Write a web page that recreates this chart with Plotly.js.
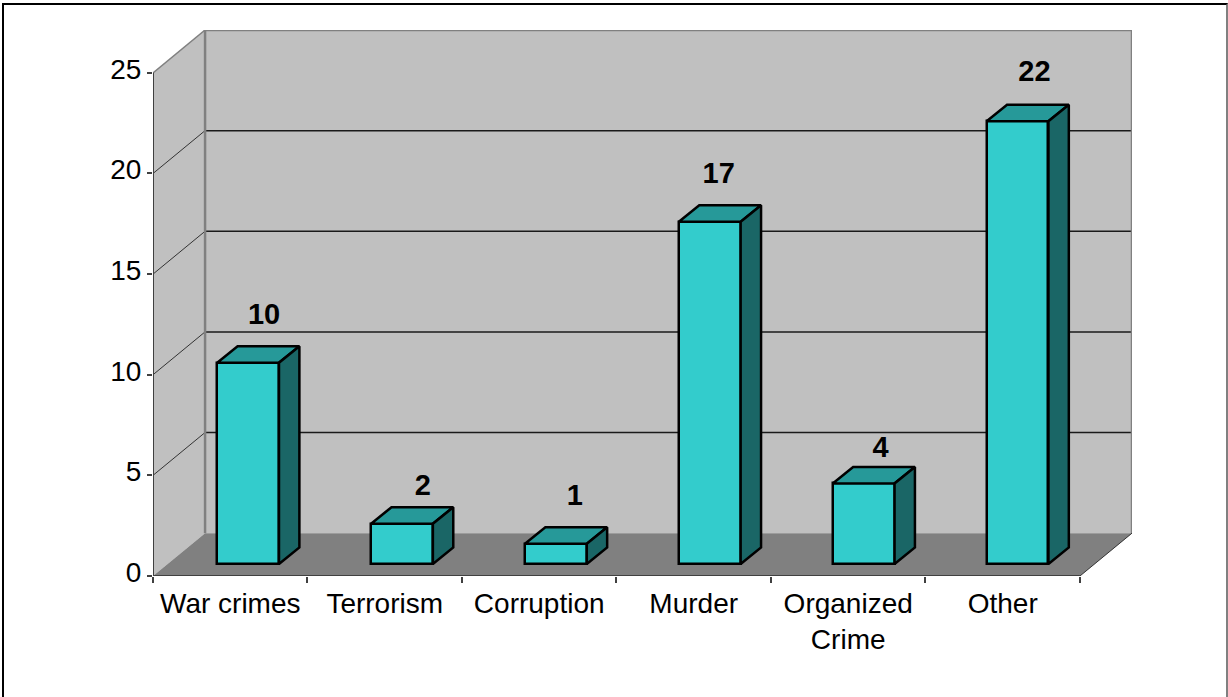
<!DOCTYPE html>
<html>
<head>
<meta charset="utf-8">
<script src="https://cdn.plot.ly/plotly-3.0.1.min.js"></script>
<style>
html,body{margin:0;padding:0;background:#fff;overflow:hidden}
#chart{position:absolute;left:0;top:0;width:1228px;height:697px}
#frame{position:absolute;left:2px;top:3px;width:1222px;height:720px;border-top:2.5px solid #000;border-left:2px solid #000;border-right:2px solid #808080;pointer-events:none}
</style>
</head>
<body>
<div id="chart"></div>
<div id="frame"></div>
<script>
const categories = ["War crimes", "Terrorism", "Corruption", "Murder", "Organized<br>Crime", "Other"];
const values = [10, 2, 1, 17, 4, 22];
const yTicks = [0, 5, 10, 15, 20, 25];

// 3D projection in axis units
const depthX = 0.337, depthY = 2.13;      // wall depth
const barDepthX = 0.132, barDepthY = 0.82; // bar depth
const barShift = 0.1175, barPitch = 0.9961, barBase = 0.6, barWidth = 0.4;
const nCat = categories.length, yMax = yTicks[yTicks.length - 1];

// hand placement of the value labels, in px (the original places them unevenly)
const labelNudgeX = [-2, 3, 1, -9, -1, -1];
const labelNudgeY = [4, -6, 4, 4, -8, 5.5];
const pxX = 1 / 154.4, pxY = 1 / 20.13;

const centres = categories.map((_, i) => i + 0.5);
const barX = centres.map(c => c * barPitch + barShift);

function poly(points) {
  return 'M' + points.map(p => p[0] + ',' + p[1]).join('L') + 'Z';
}
function line(x0, y0, x1, y1, color, width) {
  return {type: 'line', layer: 'below', xref: 'x', yref: 'y', x0, y0, x1, y1, line: {color, width}};
}

const shapes = [];
// walls and floor
shapes.push({type: 'path', layer: 'below', xref: 'x', yref: 'y', line: {width: 0}, fillcolor: '#C0C0C0',
  path: poly([[depthX, depthY], [nCat + depthX, depthY], [nCat + depthX, yMax + depthY], [depthX, yMax + depthY]])});
shapes.push({type: 'path', layer: 'below', xref: 'x', yref: 'y', line: {width: 0}, fillcolor: '#C0C0C0',
  path: poly([[0, 0], [depthX, depthY], [depthX, yMax + depthY], [0, yMax]])});
shapes.push({type: 'path', layer: 'below', xref: 'x', yref: 'y', line: {width: 0}, fillcolor: '#808080',
  path: poly([[0, 0], [nCat, 0], [nCat + depthX, depthY], [depthX, depthY]])});
// gridlines
yTicks.slice(1, -1).forEach(v => {
  shapes.push(line(depthX, v + depthY, nCat + depthX, v + depthY, '#1a1a1a', 1.5));
  shapes.push(line(0, v, depthX, v + depthY, '#333333', 1));
});
// wall edges
shapes.push(line(0, yMax, depthX, yMax + depthY, '#808080', 1.5));
shapes.push(line(depthX, yMax + depthY, nCat + depthX, yMax + depthY, '#808080', 2.5));
shapes.push(line(depthX, depthY, depthX, yMax + depthY, '#808080', 2.5));
shapes.push(line(nCat + depthX, depthY, nCat + depthX, yMax + depthY, '#808080', 2.5));
shapes.push(line(nCat, 0, nCat + depthX, depthY, '#333333', 1));
// axis lines
shapes.push(line(0, 0, 0, yMax, '#404040', 2));
shapes.push(line(0, 0, nCat, 0, '#404040', 2));

// bar faces
const topX = [], topY = [], sideX = [], sideY = [];
values.forEach((v, i) => {
  const l = barX[i] - barWidth / 2, r = barX[i] + barWidth / 2;
  const b = barBase, t = barBase + v;
  topX.push(l, r, r + barDepthX, l + barDepthX, l, null);
  topY.push(t, t, t + barDepthY, t + barDepthY, t, null);
  sideX.push(r, r + barDepthX, r + barDepthX, r, r, null);
  sideY.push(b, b + barDepthY, t + barDepthY, t, b, null);
});

const traces = [
  {type: 'bar', x: barX, y: values, base: barBase, width: barWidth,
   marker: {color: '#33CCCC', line: {color: '#000', width: 2.5}}, hoverinfo: 'y'},
  {type: 'scatter', mode: 'lines', x: topX, y: topY, fill: 'toself', fillcolor: '#269999',
   line: {color: '#000', width: 2.5}, hoverinfo: 'skip'},
  {type: 'scatter', mode: 'lines', x: sideX, y: sideY, fill: 'toself', fillcolor: '#1A6666',
   line: {color: '#000', width: 2.5}, hoverinfo: 'skip'},
  {type: 'scatter', mode: 'text',
   x: barX.map((c, i) => c + barDepthX / 2 + 0.05 + labelNudgeX[i] * pxX),
   y: values.map((v, i) => v + barBase + barDepthY + 0.55 + labelNudgeY[i] * pxY),
   text: values.map(String),
   textposition: 'top center', cliponaxis: false,
   textfont: {family: 'Liberation Sans', size: 29, color: '#000', weight: 700}, hoverinfo: 'skip'}
];

const layout = {
  width: 1228, height: 697,
  margin: {l: 153, r: 96, t: 30, b: 121, pad: 0},
  paper_bgcolor: '#fff', plot_bgcolor: 'rgba(0,0,0,0)',
  showlegend: false,
  shapes,
  bargap: 0,
  xaxis: {
    range: [0, nCat + depthX], showgrid: false, zeroline: false, showline: false,
    tickmode: 'array', tickvals: centres, ticktext: categories, ticks: '', tickangle: 0,
    minor: {tick0: 0, dtick: 1, ticks: 'outside', ticklen: 6, tickwidth: 2, tickcolor: '#404040', showgrid: false},
    ticklabelstandoff: 8,
    tickfont: {family: 'Liberation Sans', size: 28, color: '#000'}
  },
  yaxis: {
    range: [0, yMax + depthY], showgrid: false, zeroline: false, showline: false,
    tickmode: 'array', tickvals: yTicks, ticktext: yTicks.map(String),
    ticks: 'outside', ticklen: 5, tickwidth: 2, tickcolor: '#404040',
    ticklabelshift: -4,
    tickfont: {family: 'Liberation Sans', size: 28, color: '#000'}
  }
};

Plotly.newPlot('chart', traces, layout, {displayModeBar: false, responsive: false});
</script>
</body>
</html>
